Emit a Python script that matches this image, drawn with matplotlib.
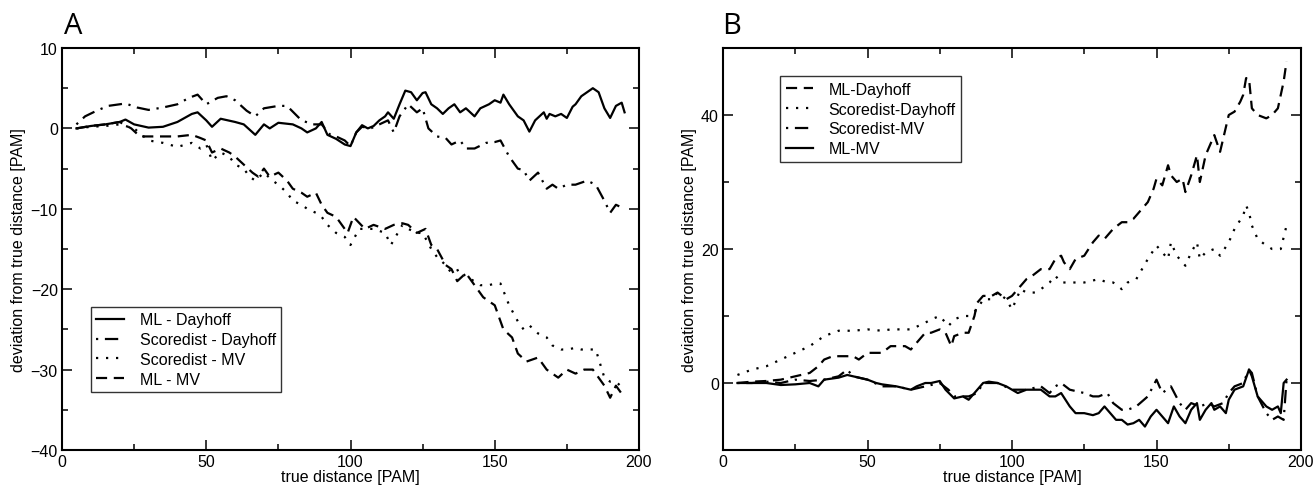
import matplotlib
matplotlib.use("Agg")
import matplotlib.pyplot as plt
from matplotlib.ticker import MultipleLocator

plt.rcParams['font.family'] = ['Liberation Sans', 'DejaVu Sans']

# ---------------- Panel A data ----------------
a_ml_day_x = [5, 10, 15, 20, 22, 25, 30, 35, 40, 45, 47, 50, 52, 55, 60, 63, 67, 70, 72, 75, 80, 83, 85, 88,
              90, 92, 95, 98, 100, 102, 104, 106, 108, 110, 112, 113, 115, 117, 119, 121, 123, 125, 126, 128,
              130, 132, 134, 136, 138, 140, 143, 145, 148, 150, 152, 153, 155, 158, 160, 162, 164, 167, 168,
              169, 171, 173, 175, 177, 178, 180, 182, 184, 186, 188, 190, 192, 194, 195]
a_ml_day_y = [0, 0.3, 0.5, 0.8, 1.1, 0.5, 0.1, 0.2, 0.8, 1.8, 2.0, 1.0, 0.2, 1.2, 0.8, 0.5, -0.8, 0.5, 0, 0.7,
              0.5, 0, -0.5, 0, 0.8, -0.8, -1.3, -2, -2.2, -0.5, 0.4, 0, 0.3, 1, 1.5, 2.0, 1.2, 3, 4.7, 4.5,
              3.5, 4.4, 4.5, 3, 2.5, 1.8, 2.5, 3, 2, 2.5, 1.5, 2.5, 3, 3.5, 3.2, 4.2, 3, 1.5, 1, -0.4, 1,
              2, 1.2, 1.8, 1.5, 1.8, 1.3, 2.7, 3, 4, 4.5, 5, 4.5, 2.5, 1.3, 2.8, 3.2, 2.0]

a_sd_day_x = [5, 8, 12, 16, 20, 22, 26, 30, 35, 40, 44, 47, 50, 54, 57, 60, 64, 67, 70, 75, 78, 83, 87, 90,
              93, 95, 98, 100, 102, 104, 107, 110, 113, 115, 117, 120, 123, 125, 127, 130, 133, 135, 138,
              140, 143, 147, 150, 152, 155, 158, 160, 162, 165, 168, 170, 172, 175, 178, 182, 185, 188,
              190, 192, 195]
a_sd_day_y = [0.5, 1.5, 2.2, 2.8, 3, 3.1, 2.6, 2.3, 2.6, 3, 3.8, 4.2, 3, 3.8, 4, 3.5, 2.2, 1.5, 2.5, 2.8, 2.8,
              1, 0.5, 0.5, -0.8, -1, -1.5, -2.2, -0.5, 0.2, 0, 0.5, 1, -0.5, 1.5, 3, 2, 2.5, 0, -1, -1.2,
              -2, -1.5, -2.5, -2.5, -1.8, -1.7, -1.5, -3.5, -5, -5.2, -6.5, -5.5, -7.5, -7, -7.5, -7,
              -7, -6.5, -7, -9, -10.5, -9.5, -10]

a_sd_mv_x = [5, 10, 15, 20, 25, 30, 35, 40, 45, 48, 50, 52, 55, 58, 60, 63, 65, 67, 70, 73, 75, 78, 80, 83,
             85, 88, 90, 92, 95, 98, 100, 103, 105, 108, 112, 114, 118, 120, 123, 125, 128, 130, 133, 135,
             138, 140, 143, 145, 148, 150, 152, 155, 158, 160, 162, 165, 168, 170, 173, 175, 178, 180,
             183, 185, 188, 190, 192, 195]
a_sd_mv_y = [0, 0.2, 0.3, 0.5, 0, -1.5, -1.8, -2.3, -1.8, -2.5, -2, -4, -3, -3.5, -4.5, -5, -6, -6.5,
             -5.5, -6.5, -7, -8, -9, -9.5, -10, -10.5, -11, -12, -13, -13.5, -14.5, -12.5, -12.5, -12.5,
             -13, -14.5, -12, -12.5, -13, -13, -15, -16, -17, -18, -17.5, -18.5, -19, -19.5, -19.5,
             -19.3, -19.3, -22, -24, -25, -24.5, -25.5, -26, -27, -27.5, -27.5, -27.3, -27.5, -27.5,
             -27.5, -31, -31.5, -31.5, -32.5]

a_ml_mv_x = [5, 10, 15, 20, 24, 27, 30, 35, 40, 45, 48, 50, 52, 55, 58, 60, 63, 66, 68, 70, 72, 75, 78, 80,
             83, 85, 88, 90, 92, 95, 99, 101, 105, 108, 112, 115, 118, 120, 123, 126, 128, 130, 133, 135,
             137, 140, 144, 146, 150, 153, 156, 158, 161, 165, 168, 172, 175, 178, 181, 184, 188, 190,
             192, 195]
a_ml_mv_y = [0, 0.3, 0.5, 0.8, 0, -1, -1, -1, -1, -0.8, -1.2, -1.5, -3, -2.5, -3, -3.5, -4.5, -5.5, -6,
             -5, -6, -5.5, -6.5, -7.5, -8, -8.5, -8, -9.5, -10.5, -11, -13, -11, -12.5, -12, -12.5, -12,
             -11.8, -12, -13, -12.5, -14.5, -15, -17, -17.5, -19, -18, -20, -21, -22, -25, -26, -28, -29,
             -28.5, -30, -31, -30, -30.5, -30, -30, -32, -33.5, -32, -33.5]

# ---------------- Panel B data ----------------
b_ml_day_x = [5, 10, 15, 20, 25, 30, 33, 35, 38, 40, 45, 47, 50, 53, 55, 58, 60, 63, 65, 68, 70, 72, 75, 77,
              79, 80, 83, 85, 87, 88, 90, 93, 95, 98, 100, 103, 105, 107, 110, 113, 115, 117, 118, 120,
              122, 125, 128, 130, 132, 135, 138, 140, 142, 145, 147, 149, 150, 152, 154, 155, 157, 159,
              160, 162, 164, 165, 167, 169, 170, 172, 175, 177, 179, 180, 181, 182, 183, 185, 188, 190,
              192, 194, 195]
b_ml_day_y = [0, 0.2, 0.3, 0.5, 1, 1.5, 2.5, 3.5, 4, 4, 4, 3.5, 4.5, 4.5, 4.5, 5.5, 5.5, 5.5, 5, 6.5, 7.5,
              7.5, 8, 7.5, 5.5, 7, 7.5, 7.5, 10, 12, 13, 13, 13.5, 12.5, 13, 14.5, 15.5, 16, 17, 17, 18.5,
              19, 18, 17, 18.5, 19, 21, 22, 21.5, 23, 24, 24, 24.5, 26, 27, 29, 30.5, 29.5, 32.5, 31, 30,
              30.5, 28.5, 31, 34, 30, 34, 36, 37, 34.5, 40, 40.5, 42, 43, 45.5, 45.5, 41, 40, 39.5, 40,
              41, 45, 48]

b_sd_day_x = [5, 10, 15, 20, 25, 30, 35, 40, 45, 50, 55, 58, 60, 65, 70, 72, 75, 78, 80, 83, 85, 88, 90,
              93, 95, 98, 100, 103, 105, 108, 110, 113, 115, 117, 120, 125, 130, 133, 135, 138, 140, 143,
              145, 147, 150, 152, 154, 155, 157, 160, 162, 164, 165, 167, 170, 172, 175, 177, 180, 181,
              182, 183, 185, 188, 190, 193, 195]
b_sd_day_y = [1.2, 2, 2.5, 3.5, 4.5, 5.5, 7, 7.8, 7.8, 8, 7.8, 8, 8, 8, 9, 9.5, 10, 8.5, 9.5, 10, 10, 11,
              12.5, 12.5, 13.5, 12.5, 11, 14, 13.5, 13.5, 14, 15, 16, 15, 15, 15, 15.5, 15, 15, 14, 15,
              15.5, 17, 18.5, 20.5, 19.5, 18.5, 21, 19, 17.5, 19.5, 21, 18.5, 19.5, 20, 19, 21, 23, 25,
              26.5, 25.5, 23.5, 21.5, 20.5, 20, 20, 23.5]

b_sd_mv_x = [5, 10, 15, 20, 25, 30, 35, 40, 43, 45, 50, 55, 60, 65, 70, 75, 78, 80, 85, 88, 90, 95, 100,
             105, 110, 113, 115, 117, 120, 125, 128, 130, 133, 135, 138, 140, 143, 147, 150, 152, 155,
             158, 160, 162, 165, 168, 170, 173, 175, 177, 180, 182, 183, 185, 188, 190, 192, 194, 195]
b_sd_mv_y = [0, 0, 0.2, 0, 0.5, 0.3, 0.5, 1, 2, 1, 0.5, -0.5, -0.5, -1, -0.5, 0, -1, -2, -2, -1.5, 0, 0,
             -1, -1, -0.5, -1.5, -0.5, 0, -1, -1.5, -2, -2, -1.5, -3, -4, -4, -3.5, -2, 0.5, -1.5,
             -0.5, -3, -4, -3, -3.5, -3, -3.5, -3, -1.5, -0.5, 0, 2, 1.5, -2, -4.5, -5.5, -5, -5.5, 0.5]

b_ml_mv_x = [5, 10, 15, 20, 25, 30, 33, 35, 40, 43, 45, 50, 53, 55, 60, 65, 67, 70, 72, 75, 77, 80, 83, 85,
             87, 90, 92, 95, 98, 100, 102, 105, 108, 110, 113, 115, 117, 120, 122, 125, 128, 130, 132,
             134, 136, 138, 140, 142, 144, 146, 148, 150, 152, 154, 156, 158, 160, 162, 164, 165, 167,
             169, 170, 172, 174, 175, 177, 180, 182, 183, 185, 188, 190, 192, 193, 194, 195]
b_ml_mv_y = [0, 0, 0, -0.3, -0.2, 0, -0.5, 0.5, 0.8, 1.2, 1, 0.5, 0, -0.2, -0.5, -1, -0.5, 0, 0, 0.3, -1,
             -2.3, -2, -2.5, -1.5, 0, 0.2, 0, -0.5, -1, -1.5, -1, -1, -1, -2, -2, -1.5, -3.5, -4.5, -4.5,
             -4.8, -4.5, -3.5, -4.5, -5.5, -5.5, -6.2, -6, -5.5, -6.5, -5, -4, -5, -6, -3.5, -5, -6, -4,
             -3, -5.5, -4, -3, -4, -3.5, -4.5, -2.5, -1, -0.5, 2, 1, -2, -3.5, -4, -3.5, -4.5, 0, 0.5]

x_ticks = [0, 50, 100, 150, 200]
a_yticks = [-40, -30, -20, -10, 0, 10]
b_yticks = [0, 20, 40]

SOLID = '-'
DASHED = (0, (5, 3))
DOTTED = (0, (1, 3.5))
DASHDOT = (0, (1, 3, 6, 3))

FS = 11.5

fig = plt.figure(figsize=(13.14, 4.89), dpi=100)
axA = fig.add_axes([62/1314, 38/489, 577/1314, 402/489])
axB = fig.add_axes([723/1314, 38/489, 578/1314, 402/489])

lw = 1.6
axA.plot(a_ml_day_x, a_ml_day_y, color='black', lw=lw, ls=SOLID, label='ML - Dayhoff')
axA.plot(a_sd_day_x, a_sd_day_y, color='black', lw=lw, ls=DASHDOT, label='Scoredist - Dayhoff')
axA.plot(a_sd_mv_x, a_sd_mv_y, color='black', lw=lw, ls=DOTTED, label='Scoredist - MV')
axA.plot(a_ml_mv_x, a_ml_mv_y, color='black', lw=lw, ls=DASHED, label='ML - MV')

axB.plot(b_ml_day_x, b_ml_day_y, color='black', lw=lw, ls=DASHED, label='ML-Dayhoff')
axB.plot(b_sd_day_x, b_sd_day_y, color='black', lw=lw, ls=DOTTED, label='Scoredist-Dayhoff')
axB.plot(b_sd_mv_x, b_sd_mv_y, color='black', lw=lw, ls=DASHDOT, label='Scoredist-MV')
axB.plot(b_ml_mv_x, b_ml_mv_y, color='black', lw=lw, ls=SOLID, label='ML-MV')

for ax, yl, yt, ymin_step in [(axA, (-40, 10), a_yticks, 5), (axB, (-10, 50), b_yticks, 10)]:
    ax.set_xlim(0, 200)
    ax.set_ylim(*yl)
    ax.set_xticks(x_ticks)
    ax.set_yticks(yt)
    ax.xaxis.set_minor_locator(MultipleLocator(25))
    ax.yaxis.set_minor_locator(MultipleLocator(ymin_step))
    ax.tick_params(which='both', direction='in', top=True, right=True, labelsize=FS, width=1.1)
    ax.tick_params(which='major', length=7, pad=3)
    ax.tick_params(which='minor', length=4.5)
    for s in ax.spines.values():
        s.set_linewidth(1.5)
    ax.set_xlabel('true distance [PAM]', fontsize=FS, labelpad=0)
    ax.set_ylabel('deviation from true distance [PAM]', fontsize=FS, labelpad=3)

legA = axA.legend(loc='upper left', bbox_to_anchor=(0.05, 0.356), borderaxespad=0, fontsize=FS,
                  frameon=True, fancybox=False, edgecolor='black', handlelength=1.7, handletextpad=1.0,
                  labelspacing=0.3, borderpad=0.35)
legA.get_frame().set_linewidth(1.0)
legB = axB.legend(loc='upper left', bbox_to_anchor=(0.0986, 0.93), borderaxespad=0, fontsize=FS,
                  frameon=True, fancybox=False, edgecolor='black', handlelength=1.7, handletextpad=1.0,
                  labelspacing=0.3, borderpad=0.35)
legB.get_frame().set_linewidth(1.0)

fig.text(73/1314, 1 - 27/489, 'A', fontsize=21, family=['Open Sans', 'DejaVu Sans'], ha='center', va='center')
fig.text(732/1314, 1 - 27/489, 'B', fontsize=21, family=['Open Sans', 'DejaVu Sans'], ha='center', va='center')

fig.savefig('out.png', dpi=100)
